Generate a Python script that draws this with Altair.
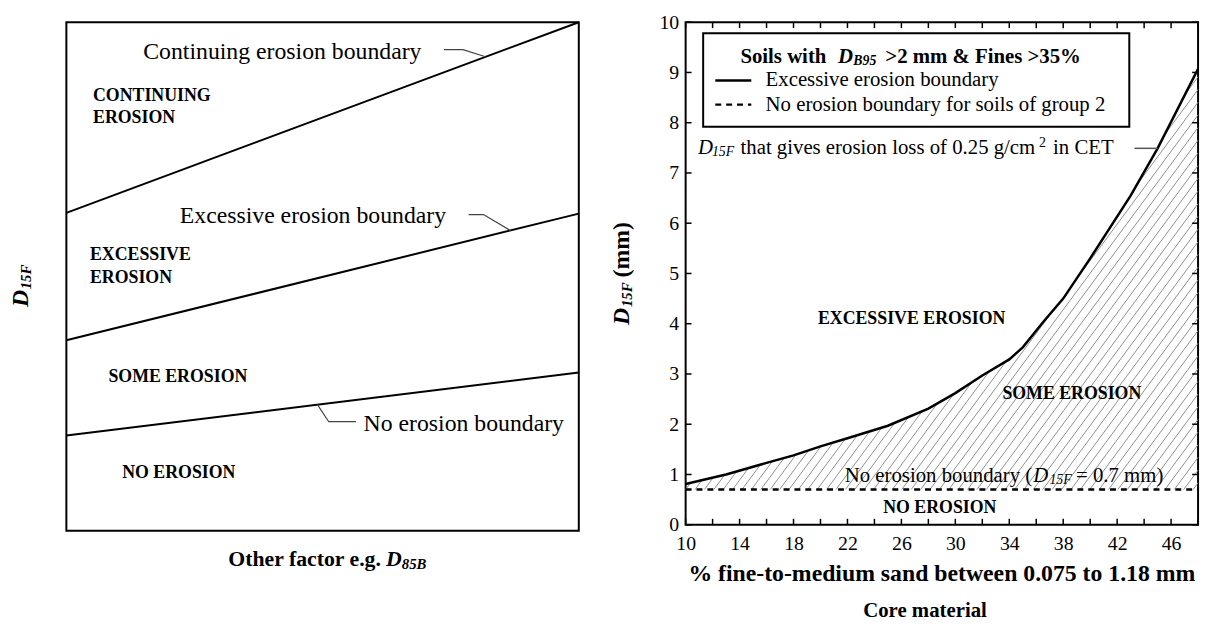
import altair as alt
import pandas as pd
import numpy as np

# ---------------- right panel data (core material) ----------------
sand_pct = [10, 13, 16, 18, 20, 22, 25, 28, 30, 32, 34, 35, 36.5, 38, 40, 43, 45, 48]
d15f_excessive = [0.81, 1.00, 1.23, 1.38, 1.56, 1.72, 1.97, 2.31, 2.62, 2.97, 3.29, 3.53,
                  4.03, 4.50, 5.30, 6.55, 7.49, 9.07]
no_erosion_x = [10, 48]
no_erosion_y = [0.7, 0.7]
x_ticks = list(range(10, 49, 2))
x_labels = list(range(10, 47, 4))
y_ticks = list(range(0, 11))

# ---------------- left panel data (schematic) ----------------
factor_x = [0.0, 1.0]
continuing_y = [0.625, 1.0]
excessive_y = [0.3745, 0.6236]
noerosion_y = [0.187, 0.311]

SERIF = "Liberation Serif"
LW, LH = 518, 514
RW, RH = 518, 508

# ============ LEFT PANEL ============
LX = alt.Scale(domain=[0, 1], nice=False, zero=False)
LY = alt.Scale(domain=[0, 1], nice=False, zero=False)

left_df = pd.DataFrame({
    "x": factor_x * 3,
    "y": continuing_y + excessive_y + noerosion_y,
    "b": ["c", "c", "e", "e", "n", "n"],
})
left_lines = alt.Chart(left_df).mark_line(color="black", strokeWidth=2).encode(
    x=alt.X("x:Q", scale=LX, axis=None),
    y=alt.Y("y:Q", scale=LY, axis=None),
    detail="b:N",
)

leader_df = pd.DataFrame({
    "x": [0.737, 0.774, 0.818, 0.785, 0.814, 0.867, 0.49, 0.512, 0.565],
    "y": [0.946, 0.946, 0.932, 0.6216, 0.6216, 0.590, 0.2478, 0.2143, 0.2143],
    "b": ["c"] * 3 + ["e"] * 3 + ["n"] * 3,
    "o": [0, 1, 2] * 3,
})
left_leaders = alt.Chart(leader_df).mark_line(color="#444", strokeWidth=1.2).encode(
    x=alt.X("x:Q", scale=LX, axis=None),
    y=alt.Y("y:Q", scale=LY, axis=None),
    detail="b:N", order="o:Q",
)


def ltext(x, y, t, **kw):
    return alt.Chart(pd.DataFrame({"x": [x], "y": [y], "t": [t]})).mark_text(
        font=SERIF, color="black", baseline="middle", **kw
    ).encode(x=alt.X("x:Q", scale=LX, axis=None), y=alt.Y("y:Q", scale=LY, axis=None), text="t:N")


def ptext(x, y, t, **kw):
    return alt.Chart(pd.DataFrame({"t": [t]})).mark_text(
        font=SERIF, color="black", baseline="middle", **kw
    ).encode(x=alt.value(x), y=alt.value(y), text="t:N")


left_texts = [
    ltext(0.693, 0.942, "Continuing erosion boundary", align="right", fontSize=24),
    ltext(0.741, 0.618, "Excessive erosion boundary", align="right", fontSize=24),
    ltext(0.580, 0.210, "No erosion boundary", align="left", fontSize=24),
    ltext(0.052, 0.855, "CONTINUING", align="left", fontSize=18, fontWeight="bold"),
    ltext(0.052, 0.811, "EROSION", align="left", fontSize=18, fontWeight="bold"),
    ltext(0.046, 0.5425, "EXCESSIVE", align="left", fontSize=18, fontWeight="bold"),
    ltext(0.046, 0.496, "EROSION", align="left", fontSize=18, fontWeight="bold"),
    ltext(0.082, 0.303, "SOME EROSION", align="left", fontSize=18, fontWeight="bold"),
    ltext(0.109, 0.114, "NO EROSION", align="left", fontSize=18, fontWeight="bold"),
    # y title
    ptext(-46, LH - 226, "D", align="left", angle=270, fontSize=24, fontWeight="bold", fontStyle="italic"),
    ptext(-41, LH - 244, "15F", align="left", angle=270, fontSize=15, fontWeight="bold", fontStyle="italic"),
    # x title
    ptext(318, LH + 29, "Other factor e.g.", align="right", fontSize=22, fontWeight="bold"),
    ptext(323, LH + 29, "D", align="left", fontSize=22, fontWeight="bold", fontStyle="italic"),
    ptext(339, LH + 34, "85B", align="left", fontSize=15, fontWeight="bold", fontStyle="italic"),
]

left = alt.layer(left_lines, left_leaders, *left_texts).properties(width=LW, height=LH)

# ============ RIGHT PANEL ============
XS = alt.Scale(domain=[10, 48], nice=False, zero=False)
YS = alt.Scale(domain=[0, 10], nice=False, zero=False)

curve_df = pd.DataFrame({"x": sand_pct, "y": d15f_excessive})
nb_df = pd.DataFrame({"x": no_erosion_x, "y": no_erosion_y})

# hatch lines filling the band between the no-erosion line and the excessive boundary
px_x = RW / 38.0
px_y = RH / 10.0
k = 1.35 * px_x / px_y
step = 9.5 / px_x
grid = np.linspace(10, 48, 7601)
cgrid = np.interp(grid, sand_pct, d15f_excessive)
segs = []
for x0 in np.arange(9.3, 48, step):
    yl = 0.7 + k * (grid - x0)
    inside = (yl >= 0.7) & (yl <= cgrid)
    d = np.diff(np.concatenate([[0], inside.astype(int), [0]]))
    st = np.where(d == 1)[0]
    en = np.where(d == -1)[0] - 1
    for s, e in zip(st, en):
        if e > s:
            segs.append((grid[s], yl[s], grid[e], yl[e]))
hatch_df = pd.DataFrame(segs, columns=["x", "y", "x2", "y2"])
hatch = alt.Chart(hatch_df).mark_rule(color="#909090", strokeWidth=1).encode(
    x=alt.X("x:Q", scale=XS, axis=None), y=alt.Y("y:Q", scale=YS, axis=None),
    x2="x2:Q", y2="y2:Q",
)

ax_common = dict(ticks=False, domain=False, grid=False, title=None,
                 labelFont=SERIF, labelFontSize=20, labelColor="black",
                 labelFlush=False, labelOverlap=False)

curve = alt.Chart(curve_df).mark_line(color="black", strokeWidth=2.5).encode(
    x=alt.X("x:Q", scale=XS, axis=alt.Axis(orient="bottom", values=x_labels, labelPadding=9, **ax_common)),
    y=alt.Y("y:Q", scale=YS, axis=alt.Axis(orient="left", values=y_ticks, labelPadding=7, **ax_common)),
)
nb_line = alt.Chart(nb_df).mark_line(color="black", strokeWidth=2.5, strokeDash=[6, 5]).encode(
    x=alt.X("x:Q", scale=XS, axis=None), y=alt.Y("y:Q", scale=YS, axis=None),
)

# inward tick marks on all four sides
TL = 6
xt_df = pd.DataFrame({"v": x_ticks})
yt_df = pd.DataFrame({"v": y_ticks})
tick_kw = dict(color="black", strokeWidth=1.5)
ticks_bottom = alt.Chart(xt_df).mark_rule(**tick_kw).encode(
    x=alt.X("v:Q", scale=XS, axis=None), y=alt.datum(0, scale=YS, axis=None), y2=alt.value(RH - TL))
ticks_top = alt.Chart(xt_df).mark_rule(**tick_kw).encode(
    x=alt.X("v:Q", scale=XS, axis=None), y=alt.datum(10, scale=YS, axis=None), y2=alt.value(TL))
ticks_left = alt.Chart(yt_df).mark_rule(**tick_kw).encode(
    y=alt.Y("v:Q", scale=YS, axis=None), x=alt.datum(10, scale=XS, axis=None), x2=alt.value(TL))
ticks_right = alt.Chart(yt_df).mark_rule(**tick_kw).encode(
    y=alt.Y("v:Q", scale=YS, axis=None), x=alt.datum(48, scale=XS, axis=None), x2=alt.value(RW - TL))

legend_box = alt.Chart(pd.DataFrame({"x": [11.3], "x2": [42.9], "y": [7.92], "y2": [9.78]})).mark_rect(
    fill="white", fillOpacity=0, stroke="black", strokeWidth=2
).encode(x=alt.X("x:Q", scale=XS, axis=None), x2="x2:Q", y=alt.Y("y:Q", scale=YS, axis=None), y2="y2:Q")

leg_solid = alt.Chart(pd.DataFrame({"x": [12.2], "x2": [14.87], "y": [8.84]})).mark_rule(
    color="black", strokeWidth=2.5).encode(
    x=alt.X("x:Q", scale=XS, axis=None), x2="x2:Q", y=alt.Y("y:Q", scale=YS, axis=None))
leg_dash = alt.Chart(pd.DataFrame({"x": [12.2], "x2": [14.87], "y": [8.36]})).mark_rule(
    color="black", strokeWidth=2.5, strokeDash=[6, 5]).encode(
    x=alt.X("x:Q", scale=XS, axis=None), x2="x2:Q", y=alt.Y("y:Q", scale=YS, axis=None))

callout = alt.Chart(pd.DataFrame({"x": [43.28], "x2": [45.0], "y": [7.49]})).mark_rule(
    color="#555", strokeWidth=1.5).encode(x=alt.X("x:Q", scale=XS, axis=None), x2="x2:Q",
                                          y=alt.Y("y:Q", scale=YS, axis=None))


def rtext(x, y, t, **kw):
    return alt.Chart(pd.DataFrame({"x": [x], "y": [y], "t": [t]})).mark_text(
        font=SERIF, color="black", baseline="middle", **kw
    ).encode(x=alt.X("x:Q", scale=XS, axis=None), y=alt.Y("y:Q", scale=YS, axis=None), text="t:N")


B = dict(fontWeight="bold")
BI = dict(fontWeight="bold", fontStyle="italic")
I = dict(fontStyle="italic")
right_texts = [
    rtext(14.06, 9.30, "Soils with", align="left", fontSize=21, **B),
    rtext(21.29, 9.30, "D", align="left", fontSize=21, **BI),
    rtext(22.43, 9.22, "B95", align="left", fontSize=14, **BI),
    rtext(24.81, 9.30, ">2 mm & Fines >35%", align="left", fontSize=21, **B),
    rtext(15.93, 8.84, "Excessive erosion boundary", align="left", fontSize=21),
    rtext(15.93, 8.36, "No erosion boundary for soils of group 2", align="left", fontSize=21),
    rtext(10.92, 7.49, "D", align="left", fontSize=21, **I),
    rtext(11.95, 7.41, "15F", align="left", fontSize=14, **I),
    rtext(14.07, 7.49, "that gives erosion loss of 0.25 g/cm", align="left", fontSize=21),
    rtext(36.2, 7.60, "2", align="left", fontSize=14),
    rtext(37.25, 7.49, "in CET", align="left", fontSize=21),
    rtext(26.76, 4.10, "EXCESSIVE EROSION", align="center", fontSize=18, **B),
    rtext(38.64, 2.60, "SOME EROSION", align="center", fontSize=18, **B),
    rtext(35.70, 0.97, "No erosion boundary (", align="right", fontSize=21),
    rtext(35.78, 0.97, "D", align="left", fontSize=21, **I),
    rtext(36.98, 0.89, "15F", align="left", fontSize=14, **I),
    rtext(38.95, 0.97, "= 0.7 mm)", align="left", fontSize=21),
    rtext(28.85, 0.34, "NO EROSION", align="center", fontSize=18, **B),
    # axis titles
    ptext(-64, RH - 202, "D", align="left", angle=270, fontSize=24, **BI),
    ptext(-59, RH - 220, "15F", align="left", angle=270, fontSize=15, **BI),
    ptext(-64, RH - 250, "(mm)", align="left", angle=270, fontSize=24, **B),
    ptext(RW / 2, RH + 50, "% fine-to-medium sand between 0.075 to 1.18 mm", align="center", fontSize=24, **B),
    ptext(242, RH + 87, "Core material", align="center", fontSize=21, **B),
]

right = alt.layer(hatch, curve, nb_line, ticks_bottom, ticks_top, ticks_left, ticks_right,
                  legend_box, leg_solid, leg_dash, callout, *right_texts).resolve_axis(
    x="independent", y="independent").properties(width=RW, height=RH)

chart = alt.hconcat(left, right, spacing=26).properties(
    padding={"left": 0, "top": 0, "right": 0, "bottom": 0}
).configure(font=SERIF).configure_view(stroke="black", strokeWidth=2)

chart.save("out.html", embed_options={"renderer": "svg", "actions": False})
